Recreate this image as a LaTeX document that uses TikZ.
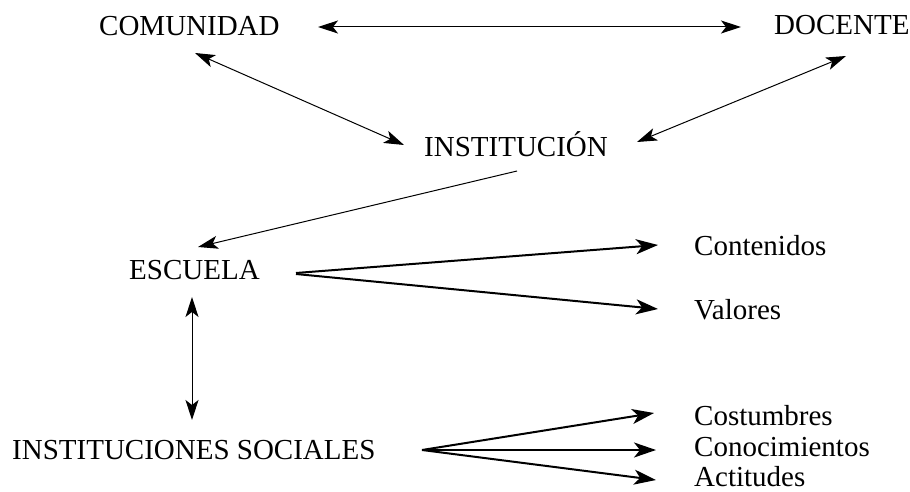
\documentclass[tikz,border=0pt]{standalone}
\usepackage{fontspec}
\setmainfont{Liberation Serif}
\usetikzlibrary{arrows.meta}
\begin{document}
\begin{tikzpicture}[x=1pt,y=-1pt,
  lbl/.style={anchor=base west,inner sep=0pt,font=\fontsize{29}{34}\selectfont},
  thin/.style={line width=1pt,{Stealth[length=20pt,width=13pt,inset=5pt]}-{Stealth[length=20pt,width=13pt,inset=5pt]}},
  thinone/.style={line width=1pt,-{Stealth[length=20pt,width=13pt,inset=5pt]}},
  thick/.style={line width=2pt,-{Stealth[length=22pt,width=15pt,inset=6pt]}}]
\useasboundingbox (0,0) rectangle (910,492);
\node[lbl] (com) at (99,36) {COMUNIDAD};
\node[lbl] (doc) at (774,35) {DOCENTE};
\node[lbl] (inst) at (424,157) {INSTITUCIÓN};
\node[lbl] (esc) at (129,279) {ESCUELA};
\node[lbl] (cont) at (694,255) {Contenidos};
\node[lbl] (val) at (694,319) {Valores};
\node[lbl] (is) at (12,459) {INSTITUCIONES SOCIALES};
\node[lbl] (cost) at (694,425) {Costumbres};
\node[lbl] (conoc) at (694,456) {Conocimientos};
\node[lbl] (act) at (694,486) {Actitudes};
\draw[thin] ([shift={(219,-9)}]com.base west) -- ([shift={(-33,-8)}]doc.base west);
\draw[thin] ([shift={(96,17)}]com.base west) -- ([shift={(-20,-12)}]inst.base west);
\draw[thin] ([shift={(72,21)}]doc.base west) -- ([shift={(213,-15)}]inst.base west);
\draw[thinone] ([shift={(93,14)}]inst.base west) -- ([shift={(69,-32)}]esc.base west);
\draw[thick] ([shift={(167,-6)}]esc.base west) -- ([shift={(-36,-10)}]cont.base west);
\draw[thick] ([shift={(167,-5)}]esc.base west) -- ([shift={(-36,-10)}]val.base west);
\draw[thin] ([shift={(63,18)}]esc.base west) -- ([shift={(180,-39)}]is.base west);
\draw[thick] ([shift={(410,-9)}]is.base west) -- ([shift={(-40,-12)}]cost.base west);
\draw[thick] ([shift={(410,-9)}]is.base west) -- ([shift={(-38,-6)}]conoc.base west);
\draw[thick] ([shift={(410,-9)}]is.base west) -- ([shift={(-38,-6)}]act.base west);
\end{tikzpicture}
\end{document}
